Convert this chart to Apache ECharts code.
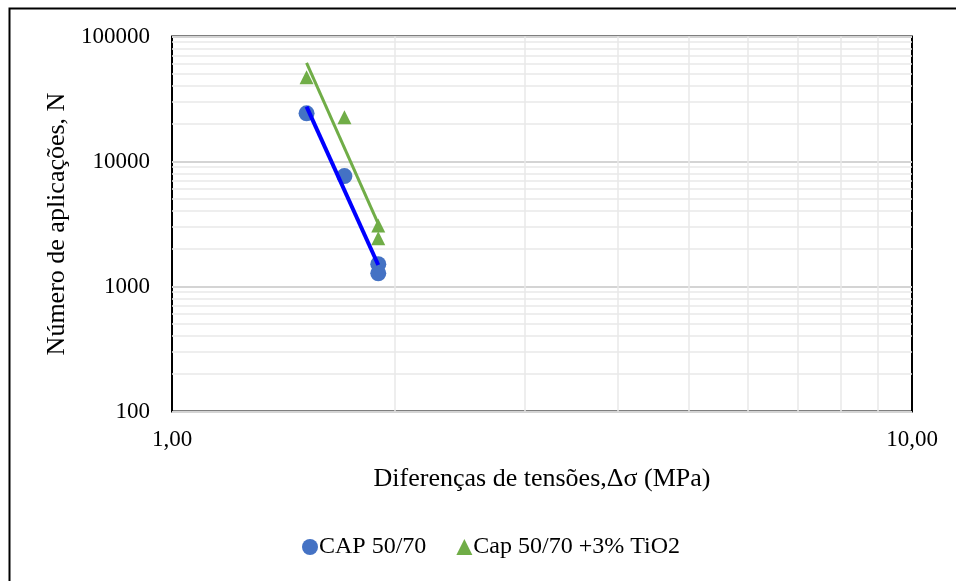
<!DOCTYPE html>
<html>
<head>
<meta charset="utf-8">
<script src="https://cdn.jsdelivr.net/npm/echarts@6/dist/echarts.min.js"></script>
<style>
  html, body { margin: 0; padding: 0; background: #fff; }
  #chart { width: 956px; height: 581px; }
</style>
</head>
<body>
<div id="chart"></div>
<script>
// Stress difference (MPa) for each fatigue test
const deltaSigma = [1.52, 1.71, 1.90, 1.90];
// Number of load applications to failure
const nCap = [24300, 7650, 1510, 1275];
const nTiO2 = [47200, 22600, 3070, 2430];

const seriesNames = ['CAP 50/70', 'Cap 50/70 +3% TiO2'];
const xTicks = [1, 10];
const yTicks = [100, 1000, 10000, 100000];
// Minor grid positions within each decade
const minorSteps = [2, 3, 4, 5, 6, 7, 8, 9];

const FONT = '"Liberation Serif", "Times New Roman", serif';

// Power-law trendline (least squares in log-log space), spanning the data range
function powerTrend(xs, ys) {
  const lx = xs.map(Math.log10), ly = ys.map(Math.log10);
  const n = lx.length;
  const mx = lx.reduce((a, b) => a + b, 0) / n;
  const my = ly.reduce((a, b) => a + b, 0) / n;
  let sxy = 0, sxx = 0;
  for (let i = 0; i < n; i++) { sxy += (lx[i] - mx) * (ly[i] - my); sxx += (lx[i] - mx) ** 2; }
  const b = sxy / sxx, a = my - b * mx;
  const x0 = Math.min(...xs), x1 = Math.max(...xs);
  return [[x0, Math.pow(10, a + b * Math.log10(x0))], [x1, Math.pow(10, a + b * Math.log10(x1))]];
}

const pairs = ys => deltaSigma.map((x, i) => [x, ys[i]]);

const vMinor = minorSteps.map(v => ({ xAxis: v }));
const hMinor = [];
[100, 1000, 10000].forEach(d => minorSteps.forEach(m => hMinor.push({ yAxis: d * m })));

const chart = echarts.init(document.getElementById('chart'), null, { renderer: 'canvas' });
chart.setOption({
  animation: false,
  backgroundColor: '#fff',
  graphic: [{
    type: 'rect', left: 7, top: 6, silent: true, z: 100,
    shape: { width: 980, height: 620 },
    style: { fill: 'none', stroke: '#000', lineWidth: 2 }
  }],
  grid: {
    left: 172, right: 44, top: 36.5, bottom: 169.5,
    show: true, borderColor: '#000', borderWidth: 2, backgroundColor: 'transparent'
  },
  legend: {
    bottom: 17, left: 297,
    itemGap: 30, itemWidth: 16, itemHeight: 16,
    textStyle: { fontFamily: FONT, fontSize: 24, color: '#000', padding: [0, 0, 0, -4] },
    data: [
      { name: seriesNames[0], icon: 'circle' },
      { name: seriesNames[1], icon: 'triangle', itemStyle: { color: '#70AD47' } }
    ]
  },
  xAxis: {
    type: 'log', logBase: 10, min: xTicks[0], max: xTicks[xTicks.length - 1],
    name: 'Diferenças de tensões,Δσ (MPa)',
    nameLocation: 'middle', nameGap: 55,
    nameTextStyle: { fontFamily: FONT, fontSize: 26, color: '#000' },
    axisLine: { show: false }, axisTick: { show: false },
    axisLabel: {
      fontFamily: FONT, fontSize: 23, color: '#000', margin: 17,
      formatter: v => v.toFixed(2).replace('.', ',')
    },
    splitLine: { show: false }
  },
  yAxis: {
    type: 'log', logBase: 10, min: yTicks[0], max: yTicks[yTicks.length - 1],
    name: 'Número de aplicações, N',
    nameLocation: 'middle', nameGap: 96,
    nameTextStyle: { fontFamily: FONT, fontSize: 26, color: '#000' },
    axisLine: { show: false }, axisTick: { show: false },
    axisLabel: {
      fontFamily: FONT, fontSize: 23, color: '#000', margin: 22,
      formatter: v => String(Math.round(v))
    },
    splitLine: { show: true, lineStyle: { color: '#d4d4d4', width: 2 } }
  },
  series: [
    {
      // light minor gridlines at 2..9 of each decade
      name: 'grid-minor', type: 'line', data: [], silent: true, z: 0, zlevel: 0,
      markLine: {
        silent: true, symbol: 'none', label: { show: false }, animation: false,
        lineStyle: { color: '#e9e9e9', width: 1.5, type: 'solid' },
        data: vMinor.concat(hMinor)
      }
    },
    {
      name: seriesNames[0], type: 'scatter', data: pairs(nCap), z: 5, zlevel: 1,
      symbol: 'circle', symbolSize: 16,
      itemStyle: { color: '#4472C4', opacity: 1 }
    },
    {
      name: seriesNames[1], type: 'scatter', data: pairs(nTiO2), z: 5, zlevel: 1,
      symbol: 'triangle', symbolSize: 14,
      itemStyle: { color: '#70AD47', opacity: 1 }
    },
    {
      name: 'trend-cap', type: 'line', data: powerTrend(deltaSigma, nCap),
      symbol: 'none', silent: true, z: 10, zlevel: 1,
      lineStyle: { color: '#0000FF', width: 4 }
    },
    {
      name: 'trend-tio2', type: 'line', data: powerTrend(deltaSigma, nTiO2),
      symbol: 'none', silent: true, z: 10, zlevel: 1,
      lineStyle: { color: '#70AD47', width: 3 }
    }
  ]
});
</script>
</body>
</html>
